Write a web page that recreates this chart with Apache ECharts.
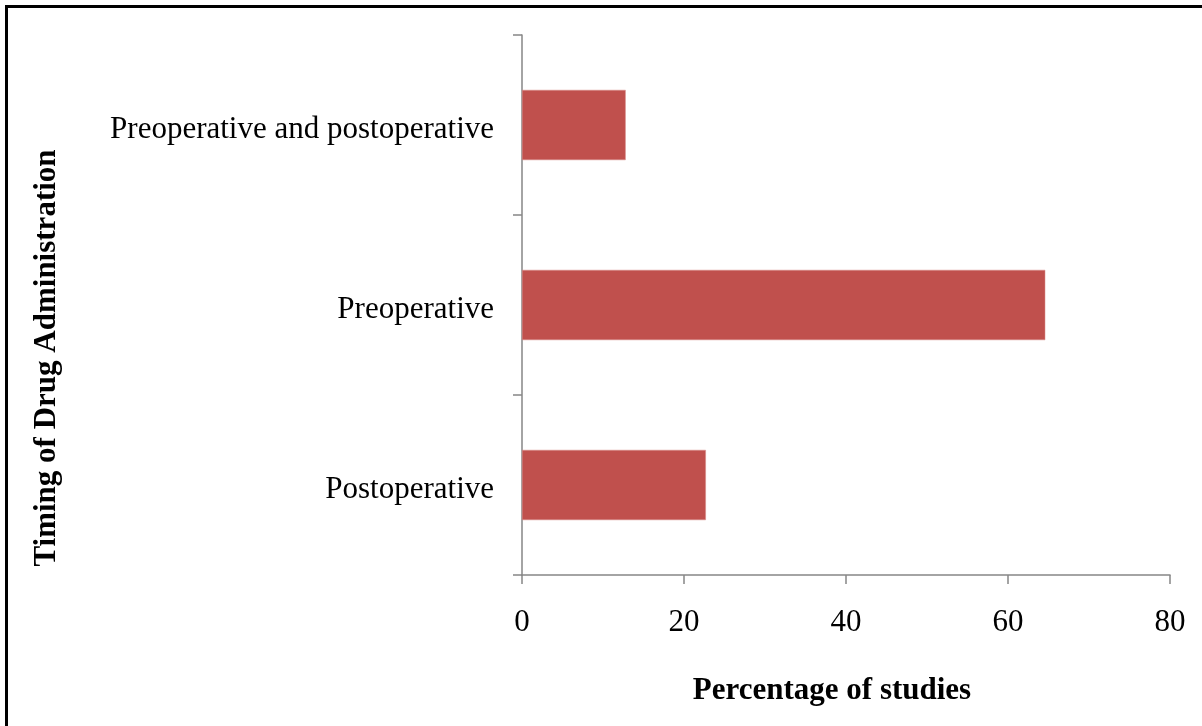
<!DOCTYPE html>
<html>
<head>
<meta charset="utf-8">
<script src="https://cdn.jsdelivr.net/npm/echarts@6/dist/echarts.min.js"></script>
<style>
html,body{margin:0;padding:0;background:#fff;}
#chart{width:1202px;height:726px;}
</style>
</head>
<body>
<div id="chart"></div>
<script>
const categories = ['Postoperative', 'Preoperative', 'Preoperative and postoperative'];
const values = [22.7, 64.6, 12.8];
const xTicks = [0, 20, 40, 60, 80];
const xTitle = 'Percentage of studies';
const yTitle = 'Timing of Drug Administration';

const chart = echarts.init(document.getElementById('chart'));
const font = 'Liberation Serif, Times New Roman, serif';
const axisGray = '#868686';
chart.setOption({
  animation: false,
  backgroundColor: '#fff',
  grid: {left: 522, right: 32, top: 35, bottom: 151, containLabel: false},
  xAxis: {
    type: 'value',
    min: xTicks[0], max: xTicks[xTicks.length - 1], interval: 20,
    axisLine: {show: true, lineStyle: {color: axisGray, width: 1.5}},
    axisTick: {show: true, length: 9, lineStyle: {color: axisGray, width: 1.5}},
    axisLabel: {fontFamily: font, fontSize: 31, color: '#000', margin: 32},
    splitLine: {show: false}
  },
  yAxis: {
    type: 'category',
    data: categories,
    axisLine: {show: true, lineStyle: {color: axisGray, width: 1.5}},
    axisTick: {show: true, length: 9, lineStyle: {color: axisGray, width: 1.5}},
    axisLabel: {
      fontFamily: font, fontSize: 31, color: '#000', margin: 28,
      formatter: '{a|{value}}',
      rich: {a: {fontFamily: font, fontSize: 31, color: '#000', padding: [10, 0, 0, 0]}}
    }
  },
  series: [{
    type: 'bar',
    data: values,
    barCategoryGap: '61%',
    itemStyle: {color: '#C0504D', borderColor: '#D98C8A', borderWidth: 0.5}
  }],
  graphic: [
    {type: 'line', shape: {x1: 5, y1: 6.5, x2: 1202, y2: 6.5}, style: {stroke: '#000', lineWidth: 3}},
    {type: 'line', shape: {x1: 6.5, y1: 5, x2: 6.5, y2: 726}, style: {stroke: '#000', lineWidth: 3}},
    {type: 'text', x: 832, y: 691, style: {text: xTitle, font: 'bold 31px ' + font, fill: '#000', textAlign: 'center', textVerticalAlign: 'middle'}},
    {type: 'text', x: 47, y: 358, rotation: Math.PI / 2, style: {text: yTitle, font: 'bold 31px ' + font, fill: '#000', textAlign: 'center', textVerticalAlign: 'middle'}}
  ]
});
</script>
</body>
</html>
